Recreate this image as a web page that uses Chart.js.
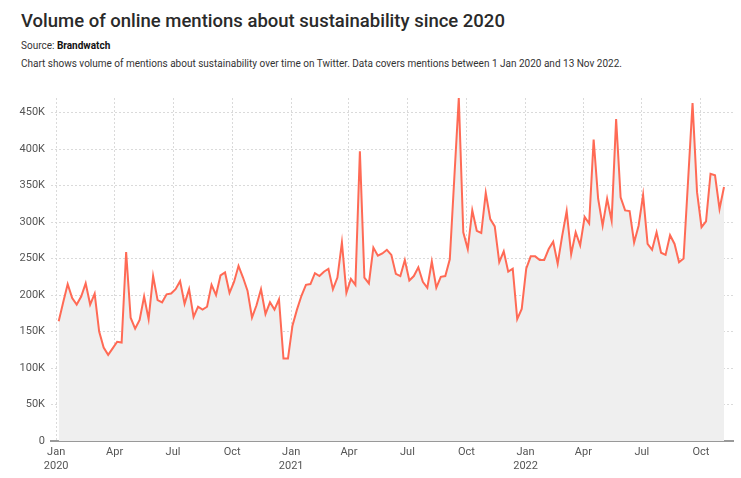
<!DOCTYPE html>
<html><head><meta charset="utf-8">
<script src="https://cdn.jsdelivr.net/npm/chart.js@4.4.0/dist/chart.umd.min.js"></script>
<style>
html,body{margin:0;padding:0;background:#fff;width:741px;height:478px;overflow:hidden;font-family:Roboto,"Liberation Sans",sans-serif;}
#title{position:absolute;left:21px;top:9px;font-size:18.5px;font-weight:500;color:#2a2a2a;line-height:24px;white-space:nowrap;}
#source{position:absolute;left:21px;top:39px;font-size:10px;color:#333;line-height:14px;white-space:nowrap;}
#source b{color:#111;}
#desc{position:absolute;left:21px;top:57px;font-size:10px;color:#333;line-height:14px;white-space:nowrap;}
#wrap{position:absolute;left:0;top:85px;width:741px;height:393px;}
</style></head>
<body>
<div id="title">Volume of online mentions about sustainability since 2020</div>
<div id="source">Source: <b>Brandwatch</b></div>
<div id="desc">Chart shows volume of mentions about sustainability over time on Twitter. Data covers mentions between 1 Jan 2020 and 13 Nov 2022.</div>
<div id="wrap"><canvas id="c"></canvas></div>
<script>
// Week dates (Sundays)
const weeks = [
 "2020-01-05","2020-01-12","2020-01-19","2020-01-26",
 "2020-02-02","2020-02-09","2020-02-16","2020-02-23",
 "2020-03-01","2020-03-08","2020-03-15","2020-03-22","2020-03-29",
 "2020-04-05","2020-04-12","2020-04-19","2020-04-26",
 "2020-05-03","2020-05-10","2020-05-17","2020-05-24","2020-05-31",
 "2020-06-07","2020-06-14","2020-06-21","2020-06-28",
 "2020-07-05","2020-07-12","2020-07-19","2020-07-26",
 "2020-08-02","2020-08-09","2020-08-16","2020-08-23","2020-08-30",
 "2020-09-06","2020-09-13","2020-09-20","2020-09-27",
 "2020-10-04","2020-10-11","2020-10-18","2020-10-25",
 "2020-11-01","2020-11-08","2020-11-15","2020-11-22","2020-11-29",
 "2020-12-06","2020-12-13","2020-12-20","2020-12-27",
 "2021-01-03","2021-01-10","2021-01-17","2021-01-24","2021-01-31",
 "2021-02-07","2021-02-14","2021-02-21","2021-02-28",
 "2021-03-07","2021-03-14","2021-03-21","2021-03-28",
 "2021-04-04","2021-04-11","2021-04-18","2021-04-25",
 "2021-05-02","2021-05-09","2021-05-16","2021-05-23","2021-05-30",
 "2021-06-06","2021-06-13","2021-06-20","2021-06-27",
 "2021-07-04","2021-07-11","2021-07-18","2021-07-25",
 "2021-08-01","2021-08-08","2021-08-15","2021-08-22","2021-08-29",
 "2021-09-05","2021-09-12","2021-09-19","2021-09-26",
 "2021-10-03","2021-10-10","2021-10-17","2021-10-24","2021-10-31",
 "2021-11-07","2021-11-14","2021-11-21","2021-11-28",
 "2021-12-05","2021-12-12","2021-12-19","2021-12-26",
 "2022-01-02","2022-01-09","2022-01-16","2022-01-23","2022-01-30",
 "2022-02-06","2022-02-13","2022-02-20","2022-02-27",
 "2022-03-06","2022-03-13","2022-03-20","2022-03-27",
 "2022-04-03","2022-04-10","2022-04-17","2022-04-24",
 "2022-05-01","2022-05-08","2022-05-15","2022-05-22","2022-05-29",
 "2022-06-05","2022-06-12","2022-06-19","2022-06-26",
 "2022-07-03","2022-07-10","2022-07-17","2022-07-24","2022-07-31",
 "2022-08-07","2022-08-14","2022-08-21","2022-08-28",
 "2022-09-04","2022-09-11","2022-09-18","2022-09-25",
 "2022-10-02","2022-10-09","2022-10-16","2022-10-23","2022-10-30",
 "2022-11-06"
];
// Weekly mentions
const mentions = [
 164000,190000,215000,196000,187000,198000,216000,187000,202000,150000,
 128000,118000,127000,136000,135000,259000,169000,154000,166000,198000,
 167000,226000,193000,190000,201000,202000,208000,219000,188000,208000,
 170000,184000,180000,184000,214000,200000,227000,231000,203000,218000,
 240000,224000,206000,169000,186000,208000,174000,190000,180000,194000,
 113000,113000,158000,180000,199000,214000,215000,230000,226000,232000,
 236000,208000,224000,272000,203000,222000,214000,397000,224000,216000,
 265000,254000,257000,262000,255000,229000,226000,248000,220000,226000,
 238000,218000,210000,246000,210000,225000,226000,249000,360000,470000,
 286000,263000,316000,288000,285000,340000,304000,294000,245000,260000,
 232000,236000,167000,181000,236000,253000,253000,248000,248000,263000,
 273000,243000,281000,315000,256000,286000,268000,307000,298000,413000,
 332000,295000,332000,302000,441000,334000,316000,315000,272000,295000,
 337000,270000,262000,286000,258000,255000,282000,270000,245000,250000,
 356000,463000,341000,293000,301000,366000,364000,318000,348000
];
// Axis ticks
const xTickDates = ["2020-01-01","2020-04-01","2020-07-01","2020-10-01",
 "2021-01-01","2021-04-01","2021-07-01","2021-10-01",
 "2022-01-01","2022-04-01","2022-07-01","2022-10-01"];
const xTickLabels = [["Jan","2020"],"Apr","Jul","Oct",["Jan","2021"],"Apr","Jul","Oct",["Jan","2022"],"Apr","Jul","Oct"];
const yTicks = [0,50000,100000,150000,200000,250000,300000,350000,400000,450000];

const base = Date.UTC(2020,0,1);
function dayOf(s){const p=s.split('-').map(Number);return (Date.UTC(p[0],p[1]-1,p[2])-base)/86400000;}
const points = weeks.map((w,i)=>({x:dayOf(w), y:mentions[i]}));
const xTickVals = xTickDates.map(dayOf);

const font = {family:'Roboto, "Liberation Sans", sans-serif', size:11};
new Chart(document.getElementById('c'), {
  type:'line',
  data:{datasets:[{
    data:points,
    borderColor:'#ff6a55',
    borderWidth:2,
    backgroundColor:'#efefef',
    fill:'origin',
    pointRadius:0,
    tension:0
  }]},
  options:{
    responsive:true, maintainAspectRatio:false, animation:false,
    layout:{padding:{top:13,right:8,left:0,bottom:0}},
    plugins:{legend:{display:false},tooltip:{enabled:false}},
    scales:{
      x:{
        type:'linear', min:-8, max:1054,
        afterBuildTicks:(s)=>{s.ticks = xTickVals.map(v=>({value:v}));},
        afterFit:(s)=>{s.height=37;},
        ticks:{autoSkip:false,maxRotation:0,padding:5,color:'#555',font:font,
          callback:(v)=>{const i=xTickVals.indexOf(v);return i>=0?xTickLabels[i]:'';}},
        grid:{color:'#dadada',drawTicks:false,lineWidth:1},
        border:{display:true,color:'#999',width:2,dash:[2,2]}
      },
      y:{
        min:0, max:470000,
        afterBuildTicks:(s)=>{s.ticks = yTicks.map(v=>({value:v}));},
        afterFit:(s)=>{s.width=51;},
        ticks:{padding:6,color:'#555',font:font,
          callback:(v)=> v===0 ? '0' : (v/1000)+'K'},
        grid:{color:'#dadada',drawTicks:false,lineWidth:1},
        border:{display:false,dash:[2,2]}
      }
    }
  }
});
</script>
</body></html>
